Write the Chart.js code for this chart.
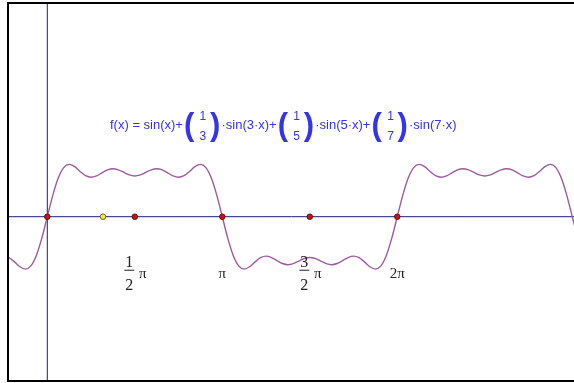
<!DOCTYPE html>
<html>
<head>
<meta charset="utf-8">
<script src="https://cdn.jsdelivr.net/npm/chart.js@4/dist/chart.umd.min.js"></script>
<style>
  html, body { margin: 0; padding: 0; background: #ffffff; overflow: hidden; }
  canvas { display: block; }
</style>
</head>
<body>
<canvas id="chart" width="574" height="383"></canvas>
<script>
// f(x) = sin(x) + sin(3x)/3 + sin(5x)/5 + sin(7x)/7, sampled every π/32,
// first sample at x = -8·π/32
const SAMPLE_START = -8;
const SAMPLES_PER_PI = 32;
const curveValues = [
  -0.7004, -0.7281, -0.8027, -0.8885, -0.9301, -0.8730, -0.6867, -0.3797,
  0, 0.3797, 0.6867, 0.8730, 0.9301, 0.8885, 0.8027, 0.7281, 0.7004, 0.7248,
  0.7797, 0.8314, 0.8518, 0.8324, 0.7869, 0.7422, 0.7238, 0.7422, 0.7869,
  0.8324, 0.8518, 0.8314, 0.7797, 0.7248, 0.7004, 0.7281, 0.8027, 0.8885,
  0.9301, 0.8730, 0.6867, 0.3797, 0,
  -0.3797, -0.6867, -0.8730, -0.9301, -0.8885, -0.8027, -0.7281, -0.7004,
  -0.7248, -0.7797, -0.8314, -0.8518, -0.8324, -0.7869, -0.7422, -0.7238,
  -0.7422, -0.7869, -0.8324, -0.8518, -0.8314, -0.7797, -0.7248, -0.7004,
  -0.7281, -0.8027, -0.8885, -0.9301, -0.8730, -0.6867, -0.3797, 0,
  0.3797, 0.6867, 0.8730, 0.9301, 0.8885, 0.8027, 0.7281, 0.7004, 0.7248,
  0.7797, 0.8314, 0.8518, 0.8324, 0.7869, 0.7422, 0.7238, 0.7422, 0.7869,
  0.8324, 0.8518, 0.8314, 0.7797, 0.7248, 0.7004, 0.7281, 0.8027, 0.8885,
  0.9301, 0.8730, 0.6867, 0.3797, 0,
  -0.3797
];

// marked points on the x axis (multiples of π) and the extra point at x = 1
const redPointMultiples = [0, 0.5, 1, 1.5, 2];
const yellowPointX = [1];

// tick labels under the axis, as multiples of π
const tickMultiples = [0.5, 1, 1.5, 2];
const tickFractions = [['1', '2'], null, ['3', '2'], null];
const tickTexts = ['π', 'π', 'π', '2π'];

// formula caption: plain text pieces and bracketed fractions
const formulaPieces = ['f(x) = sin(x)+', ['1', '3'], '·sin(3·x)+', ['1', '5'], '·sin(5·x)+', ['1', '7'], '·sin(7·x)'];

// visible window
const X_MIN = -0.6876, X_MAX = 9.456;
const Y_MIN = -2.900, Y_MAX = 3.778;

const curveData = curveValues.map((v, i) => ({ x: (SAMPLE_START + i) * Math.PI / SAMPLES_PER_PI, y: v }));
const redData = redPointMultiples.map(m => ({ x: m * Math.PI, y: 0 }));
const yellowData = yellowPointX.map(x => ({ x: x, y: 0 }));

const AXIS_COLOR = '#1c1c82';
const TEXT_BLUE = '#3434e8';

const framePlugin = {
  id: 'frame',
  afterDraw(chart) {
    const { ctx, chartArea: a, scales } = chart;
    const xs = scales.x;
    const zeroY = scales.y.getPixelForValue(0);
    ctx.save();

    // black frame on left, top and bottom
    ctx.fillStyle = '#000000';
    ctx.fillRect(a.left - 2, a.top - 2, 2, a.bottom - a.top + 4);
    ctx.fillRect(a.left - 2, a.top - 2, a.right - a.left + 2, 2);
    ctx.fillRect(a.left - 2, a.bottom, a.right - a.left + 2, 2);

    // π tick labels
    ctx.fillStyle = '#222222';
    ctx.textAlign = 'center';
    ctx.textBaseline = 'alphabetic';
    tickMultiples.forEach((m, i) => {
      const px = xs.getPixelForValue(m * Math.PI);
      const frac = tickFractions[i];
      if (frac) {
        const fx = px - 5.5;
        ctx.font = '16px "Liberation Serif", "Times New Roman", serif';
        ctx.fillText(frac[0], fx, zeroY + 50);
        ctx.fillText(frac[1], fx, zeroY + 73);
        ctx.fillRect(fx - 5, zeroY + 53, 10, 1);
        ctx.font = '15px "Liberation Serif", "Times New Roman", serif';
        ctx.fillText(tickTexts[i], px + 8, zeroY + 61);
      } else {
        ctx.font = '15px "Liberation Serif", "Times New Roman", serif';
        ctx.fillText(tickTexts[i], px, zeroY + 61);
      }
    });

    // formula caption
    ctx.fillStyle = TEXT_BLUE;
    ctx.textAlign = 'left';
    let x = 110;
    const baseY = 128.5;
    formulaPieces.forEach(piece => {
      if (typeof piece === 'string') {
        ctx.font = '13px "Liberation Sans", Arial, sans-serif';
        ctx.fillText(piece, x, baseY);
        x += ctx.measureText(piece).width;
      } else {
        ctx.font = 'bold 31px "Liberation Sans", Arial, sans-serif';
        ctx.fillText('(', x + 1, 135);
        ctx.fillText(')', x + 27, 135);
        ctx.font = '12px "Liberation Sans", Arial, sans-serif';
        ctx.textAlign = 'center';
        ctx.fillText(piece[0], x + 20, 120);
        ctx.fillText(piece[1], x + 20, 140);
        ctx.textAlign = 'left';
        x += 38.5;
      }
    });
    ctx.restore();
  }
};

new Chart(document.getElementById('chart'), {
  type: 'scatter',
  data: {
    datasets: [
      {
        data: redData, order: 0, showLine: false,
        pointRadius: 2.8, pointBackgroundColor: '#cc1010', pointBorderColor: '#5a0000', pointBorderWidth: 0.8
      },
      {
        data: yellowData, order: 0, showLine: false,
        pointRadius: 2.8, pointBackgroundColor: '#f0f020', pointBorderColor: '#4a4a10', pointBorderWidth: 0.8
      },
      {
        data: curveData, order: 1, showLine: true, clip: 0,
        borderColor: '#9c5c9c', borderWidth: 1.4, pointRadius: 0,
        cubicInterpolationMode: 'monotone'
      },
      {
        data: [{ x: X_MIN, y: 0 }, { x: X_MAX, y: 0 }], order: 2, showLine: true, clip: 0,
        borderColor: AXIS_COLOR, borderWidth: 1, pointRadius: 0
      },
      {
        data: [{ x: 0, y: Y_MIN }, { x: 0, y: Y_MAX }], order: 2, showLine: true, clip: 0,
        borderColor: AXIS_COLOR, borderWidth: 1, pointRadius: 0
      }
    ]
  },
  options: {
    responsive: false,
    devicePixelRatio: 1,
    animation: false,
    layout: { autoPadding: false, padding: { left: 9, top: 4, bottom: 3, right: 0 } },
    scales: {
      x: { type: 'linear', min: X_MIN, max: X_MAX, display: false },
      y: { type: 'linear', min: Y_MIN, max: Y_MAX, display: false }
    },
    plugins: { legend: { display: false }, tooltip: { enabled: false } },
    events: []
  },
  plugins: [framePlugin]
});
</script>
</body>
</html>
